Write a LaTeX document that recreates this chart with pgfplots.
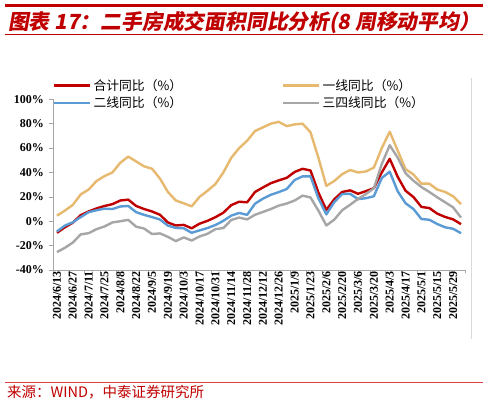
\documentclass[border=0pt]{standalone}
\usepackage{pgfplots}
\usepackage{pgfplotstable}
\pgfplotsset{compat=1.18}
\usepackage{fontspec}
\setmainfont{Liberation Serif}
\newfontfamily\cjk{Noto Sans CJK SC}
\newfontfamily\cjktitle[FakeSlant=0.18]{Noto Sans CJK SC}
\definecolor{cRed}{HTML}{C00000}
\definecolor{cGold}{HTML}{E6B96E}
\definecolor{cBlue}{HTML}{5B9BD5}
\definecolor{cGray}{HTML}{A6A6A6}
\definecolor{titleRed}{HTML}{C00000}
\definecolor{lineRed}{HTML}{D94040}

\pgfplotstableread{
i total first second third
0 -9.5 4.6 -8.4 -25.3
1 -5 8.7 -3.6 -21.8
2 -1.2 13.4 -0.9 -17.5
3 5 22 3.4 -10.8
4 8 26 7.4 -9.8
5 10.5 33 9 -6.5
6 12.5 37 10.3 -4.3
7 14 40 10 -1
8 17 48 12.1 0
9 17.7 53 12.5 1.1
10 12.5 49 7.4 -4.5
11 10 45 5.2 -6
12 8 43 3.4 -10.5
13 5.3 35 1.4 -10
14 -1 24 -3.6 -12.8
15 -3.5 17 -5.5 -16.3
16 -3 14.7 -5.8 -13.3
17 -5.8 12.2 -9.5 -15.8
18 -2 20 -7.5 -12.5
19 0.3 25 -5.6 -10.3
20 3.3 30.5 -3.1 -6.5
21 7 40 0.3 -5.6
22 13.2 52 4.6 1
23 16 60 6.8 3
24 15.5 66 5.2 1.5
25 24 74 14.4 5.3
26 27.7 77 18.5 7.6
27 31.2 80 21.7 10
28 33.5 81.5 23.9 12.8
29 35.6 78 26.4 14.5
30 40.4 79.4 33.8 17
31 43 80 36.8 21
32 41.6 73 36.8 19.5
33 23.5 52 18.8 8.7
34 9.3 29 5.6 -3.5
35 18 33 15.7 1.3
36 24 38.6 22.3 9
37 25.3 42 22.5 13.5
38 22.5 40 18.1 18.3
39 24.7 40.8 18.9 22.3
40 27.1 44 20.5 27
41 40 60 35.5 47
42 51.2 73.4 40.6 62.3
43 36.5 58 24.6 52.2
44 25 42.7 14.7 39.3
45 19.8 38.3 10 33.2
46 11.7 30.8 1.8 28
47 10.8 30.8 1.2 24
48 6.2 26 -2.3 19.6
49 3.5 24 -5 15.5
50 1.5 20.5 -6.2 11.4
51 -2.4 14 -9.8 3
}\datatable

\begin{document}
\begin{tikzpicture}[x=1pt,y=1pt]
\useasboundingbox (0,0) rectangle (488,406);
\fill[white] (0,0) rectangle (488,406);
\draw[titleRed, line width=2.2pt] (5,400.5) -- (483,400.5);
\node[anchor=base west, inner sep=0, text=titleRed, font=\cjktitle\bfseries\fontsize{20.8}{22}\selectfont] at (8,376.5) {图表 17：二手房成交面积同比分析(8 周移动平均）};
\draw[titleRed, line width=1pt] (5,371) -- (483,371);
\draw[gray!30, line width=0.6pt] (471,328) -- (471,67);
\draw[lineRed, line width=1pt] (5,23.3) -- (483,23.3);
\node[anchor=base west, inner sep=0, text=titleRed, font=\cjk\fontsize{14.5}{16}\selectfont] at (7,8) {来源：WIND，中泰证券研究所};

\begin{axis}[
  at={(53pt,136pt)}, anchor=south west,
  scale only axis, width=412pt, height=170.7pt,
  xmin=-0.5, xmax=51.5, ymin=-40, ymax=100,
  axis x line*=bottom, axis y line*=left,
  axis line style={draw=gray!70, line width=0.6pt},
  tick style={draw=gray!70, line width=0.6pt},
  tick align=outside, major tick length=0pt, minor tick length=3.5pt,
  xtick={0,2,...,50},
  minor xtick={-0.5,1.5,...,51.5},
  xticklabels={2024/6/13,2024/6/27,2024/7/11,2024/7/25,2024/8/8,2024/8/22,2024/9/5,2024/9/19,2024/10/3,2024/10/17,2024/10/31,2024/11/14,2024/11/28,2024/12/12,2024/12/26,2025/1/9,2025/1/23,2025/2/6,2025/2/20,2025/3/6,2025/3/20,2025/4/3,2025/4/17,2025/5/1,2025/5/15,2025/5/29},
  ytick={-40,-20,...,100},
  minor ytick={-40,-20,...,100},
  yticklabels={-40\%,-20\%,0\%,20\%,40\%,60\%,80\%,100\%},
  ticklabel style={font=\bfseries\fontsize{12}{13}\selectfont, text=black},
  x tick label style={rotate=90, anchor=east, inner sep=1pt},
  y tick label style={inner sep=2pt, xshift=-7pt},
  legend columns=2,
  legend cell align=left,
  legend style={at={(0,1.131)}, anchor=north west, draw=none, fill=none, inner sep=0pt,
    row sep=1pt, font=\cjk\fontsize{12.8}{13}\selectfont,
    nodes={inner sep=2pt, font=\cjk\fontsize{12.8}{13}\selectfont},
    /tikz/every even column/.append style={column sep=98pt}},
  legend image code/.code={\draw[#1] (0pt,0pt) -- (36pt,0pt);},
  every axis plot/.append style={line width=2.4pt, line join=round, no markers},
]
\addplot[cRed] table[x=i, y=total] {\datatable};
\addlegendentry{合计同比（\%）}
\addplot[cGold] table[x=i, y=first] {\datatable};
\addlegendentry{一线同比（\%）}
\addplot[cBlue] table[x=i, y=second] {\datatable};
\addlegendentry{二线同比（\%）}
\addplot[cGray] table[x=i, y=third] {\datatable};
\addlegendentry{三四线同比（\%）}
\end{axis}
\end{tikzpicture}
\end{document}
